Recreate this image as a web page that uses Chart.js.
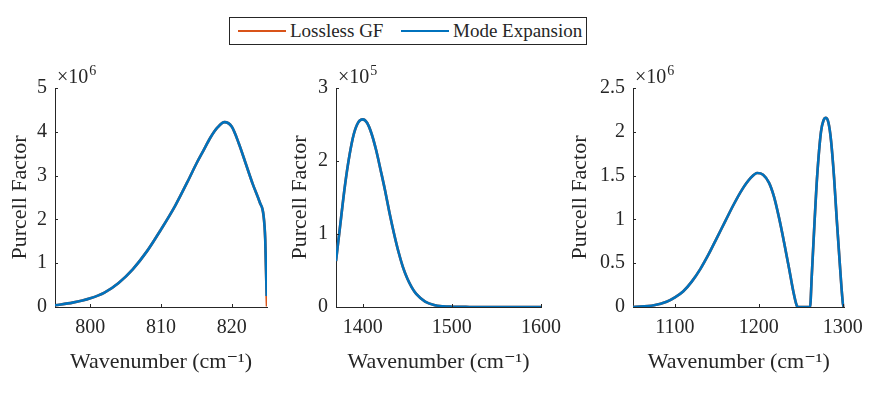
<!DOCTYPE html>
<html>
<head>
<meta charset="utf-8">
<script src="https://cdn.jsdelivr.net/npm/chart.js@4/dist/chart.umd.min.js"></script>
<style>
body { margin: 0; background: #fff; width: 872px; height: 396px; position: relative; overflow: hidden; font-family: "Liberation Serif", "Times New Roman", "DejaVu Serif", serif; color: #262626; }
.pane { position: absolute; top: 0; height: 396px; }
#legend { position: absolute; left: 229px; top: 17px; width: 356px; height: 26px; border: 1px solid #262626; background: #fff; font-size: 19px; }
#legend .ln { position: absolute; top: 12px; width: 48px; height: 0; border-top: 2.5px solid; }
#legend .tx { position: absolute; top: 1px; line-height: 24px; white-space: nowrap; }
</style>
</head>
<body>
<div id="legend">
  <span class="ln" style="left:8px;border-color:#D95319"></span><span class="tx" style="left:60px">Lossless GF</span>
  <span class="ln" style="left:171px;border-color:#0072BD"></span><span class="tx" style="left:223px">Mode Expansion</span>
</div>
<div class="pane" style="left:0;width:280px"><canvas id="c1"></canvas></div>
<div class="pane" style="left:280px;width:290px"><canvas id="c2"></canvas></div>
<div class="pane" style="left:560px;width:312px"><canvas id="c3"></canvas></div>
<script>
// panel 1 (x10^6)
var wn1 = [795, 797.5, 800, 802, 804, 806, 808, 810, 812, 814, 815, 816, 817, 818, 819, 820, 821, 822, 823, 824, 824.5, 824.75, 824.95];
var pf1 = [0.04, 0.1, 0.2, 0.33, 0.55, 0.86, 1.27, 1.77, 2.31, 2.94, 3.27, 3.57, 3.87, 4.1, 4.22, 4.12, 3.74, 3.27, 2.8, 2.38, 2.1, 1.54, 0.25];
var gfEnd1 = [825, 0.01];
var xTicks1 = [800, 810, 820];
var yTicks1 = [0, 1, 2, 3, 4, 5];

// panel 2 (x10^5)
var wn2 = [1370, 1375, 1380, 1385, 1390, 1395, 1400, 1405, 1410, 1415, 1420, 1425, 1430, 1435, 1440, 1445, 1450, 1455, 1460, 1470, 1480, 1490, 1500, 1520, 1550, 1600];
var pf2 = [0.63, 1.15, 1.66, 2.07, 2.37, 2.53, 2.57, 2.52, 2.37, 2.15, 1.88, 1.6, 1.29, 1.01, 0.76, 0.55, 0.39, 0.27, 0.18, 0.075, 0.028, 0.01, 0.004, 0.001, 0, 0];
var xTicks2 = [1400, 1500, 1600];
var yTicks2 = [0, 1, 2, 3];

// panel 3 (x10^6)
var wn3 = [1050, 1075, 1090, 1100, 1110, 1120, 1130, 1140, 1150, 1160, 1170, 1180, 1190, 1198, 1205, 1212, 1218, 1224, 1230, 1236, 1241, 1245, 1247, 1261, 1263, 1266.5, 1269.5, 1274, 1277, 1280, 1283, 1286, 1289.6, 1292.8, 1296.4, 1300, 1301];
var pf3 = [0, 0.02, 0.06, 0.11, 0.18, 0.29, 0.43, 0.6, 0.79, 0.98, 1.17, 1.34, 1.47, 1.53, 1.51, 1.42, 1.26, 1.02, 0.74, 0.44, 0.18, 0.02, 0, 0, 0.35, 1.0, 1.5, 2.0, 2.13, 2.16, 2.1, 1.9, 1.48, 1.0, 0.5, 0.05, 0];
var xTicks3 = [1100, 1200, 1300];
var yTicks3 = [0, 0.5, 1, 1.5, 2, 2.5];
var yLabels3 = ['0', '0.5', '1', '1.5', '2', '2.5'];

var ORANGE = '#D95319';
var BLUE = '#0072BD';
var INK = '#262626';
var FONT = '"Liberation Serif", "Times New Roman", "DejaVu Serif", serif';

function pts(xs, ys) {
  return xs.map(function(x, i) { return {x: x, y: ys[i]}; });
}

// MATLAB style: ticks pointing inward, exponent over the y axis
var matlabAxes = {
  id: 'matlabAxes',
  afterDraw: function(chart) {
    var ctx = chart.ctx;
    var a = chart.chartArea;
    var sx = chart.scales.x, sy = chart.scales.y;
    ctx.save();
    ctx.strokeStyle = INK;
    ctx.lineWidth = 1;
    ctx.beginPath();
    sx.ticks.forEach(function(t) {
      var px = Math.round(sx.getPixelForValue(t.value)) + 0.5;
      ctx.moveTo(px, a.bottom);
      ctx.lineTo(px, a.bottom - 3);
    });
    sy.ticks.forEach(function(t) {
      var py = Math.round(sy.getPixelForValue(t.value)) + 0.5;
      ctx.moveTo(a.left, py);
      ctx.lineTo(a.left + 3, py);
    });
    ctx.stroke();
    var exp = chart.options.plugins.matlabAxes.exponent;
    ctx.fillStyle = INK;
    ctx.textBaseline = 'alphabetic';
    ctx.font = '20px ' + FONT;
    var base = '\u00d710';
    ctx.fillText(base, a.left + 2, 83);
    var w = ctx.measureText(base).width;
    ctx.font = '14px ' + FONT;
    ctx.fillText(exp, a.left + 2 + w + 1, 75);
    ctx.restore();
  }
};

function makePanel(id, xs, ys, gfExtra, xmin, xmax, xTicks, yTicks, yLabels, exponent, yWidth, padRight) {
  var gf = pts(xs, ys);
  if (gfExtra) gf.push({x: gfExtra[0], y: gfExtra[1]});
  return new Chart(document.getElementById(id), {
    type: 'line',
    data: {
      datasets: [
        { label: 'Mode Expansion', data: pts(xs, ys), borderColor: BLUE, borderWidth: 2.6, pointRadius: 0, cubicInterpolationMode: 'monotone', order: 0 },
        { label: 'Lossless GF', data: gf, borderColor: ORANGE, borderWidth: 2.6, pointRadius: 0, cubicInterpolationMode: 'monotone', order: 1 }
      ]
    },
    options: {
      responsive: true,
      maintainAspectRatio: false,
      animation: false,
      events: [],
      layout: { padding: { left: 0, right: padRight, top: 88, bottom: 9 } },
      plugins: {
        legend: { display: false },
        tooltip: { enabled: false },
        matlabAxes: { exponent: exponent }
      },
      scales: {
        x: {
          type: 'linear', min: xmin, max: xmax,
          grid: { display: false, drawTicks: false },
          border: { display: true, color: INK, width: 1 },
          afterBuildTicks: function(s) { s.ticks = xTicks.map(function(v) { return {value: v}; }); },
          afterFit: function(s) { s.height = 80; },
          ticks: { color: INK, font: { family: FONT, size: 20 }, padding: 9, maxRotation: 0,
                   callback: function(v) { return String(v); } },
          title: { display: true, text: 'Wavenumber (cm\u207b\u00b9)', color: INK,
                   font: { family: FONT, size: 22 }, padding: { top: 0, bottom: 12 } }
        },
        y: {
          type: 'linear', min: yTicks[0], max: yTicks[yTicks.length - 1],
          grid: { display: false, drawTicks: false },
          border: { display: true, color: INK, width: 1 },
          afterBuildTicks: function(s) { s.ticks = yTicks.map(function(v) { return {value: v}; }); },
          afterFit: function(s) { s.width = yWidth; },
          ticks: { color: INK, font: { family: FONT, size: 20 }, padding: 8,
                   callback: function(v, i) { return yLabels ? yLabels[i] : String(v); } },
          title: { display: true, text: 'Purcell Factor', color: INK,
                   font: { family: FONT, size: 22 }, padding: { top: 7, bottom: 0 } }
        }
      }
    },
    plugins: [matlabAxes]
  });
}

makePanel('c1', wn1, pf1, gfEnd1, 795, 825, xTicks1, yTicks1, null, '6', 55, 13);
makePanel('c2', wn2, pf2, null, 1370, 1600, xTicks2, yTicks2, null, '5', 56, 23);
makePanel('c3', wn3, pf3, null, 1050, 1302, xTicks3, yTicks3, yLabels3, '6', 73, 27);
</script>
</body>
</html>
